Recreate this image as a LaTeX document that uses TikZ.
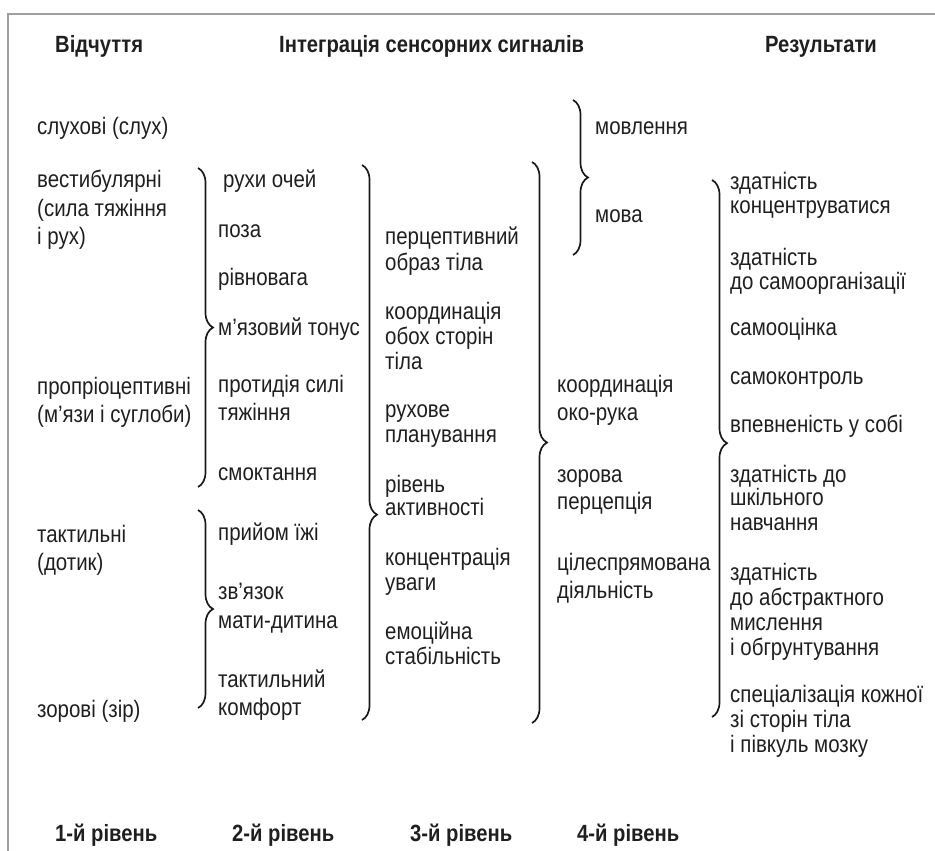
\documentclass[tikz,border=0pt]{standalone}
\usepackage{fontspec}
\setmainfont[FakeStretch=0.86]{Liberation Sans}
\usepackage{tikz}
\usetikzlibrary{
    decorations.pathreplacing,
}
\tikzset{
    % Text styles
    lbl/.style={anchor=base west, inner sep=0pt, text=black!88,
                font=\fontsize{23.8}{28}\selectfont},
    hdr/.style={lbl, font=\fontsize{23.5}{28}\selectfont\bfseries},
    % Brace styles
    brc/.style={decorate, decoration={brace, amplitude=15pt, aspect=#1},
                line width=1.7pt, draw=black!90},
    brc/.default=0.5,
    % Frame
    frame/.style={draw=gray!75, line width=1.5pt},
}

\begin{document}
\begin{tikzpicture}[x=1pt, y=-1pt]
    \useasboundingbox (0,0) rectangle (935,851);

    % Frame
    \draw[frame] (8,851) -- (8,14) -- (935,14);

    % Headings
    \foreach \x/\t [count=\i] in {55/Відчуття, 279/Інтеграція сенсорних сигналів, 765/Результати} {
        \node[hdr] (h\i) at (\x, 53) {\t};
    }

    % Senses
    \foreach \y/\t [count=\i] in {127/слухові (слух), 180/вестибулярні, 209/(сила тяжіння,
        237/і рух), 387/пропріоцептивні, 415/(м’язи і суглоби), 535/тактильні,
        563/(дотик), 710/зорові (зір)} {
        \node[lbl] (a\i) at (37, \y+7) {\t};
    }

    % 2nd level
    \node[lbl] (b0) at (223, 187) {рухи очей};
    \foreach \y/\t [count=\i] in {230/поза, 278/рівновага, 328/м’язовий тонус,
        385/протидія силі, 413/тяжіння, 473/смоктання, 533/прийом їжі,
        592/зв’язок, 621/мати-дитина, 680/тактильний, 708/комфорт} {
        \node[lbl] (b\i) at (218, \y+7) {\t};
    }

    % 3rd level
    \foreach \y/\t [count=\i] in {237/перцептивний, 263/образ тіла, 312/координація,
        337/обох сторін, 362/тіла, 410/рухове, 435/планування, 485/рівень,
        508/активності, 558/концентрація, 583/уваги, 632/емоційна, 657/стабільність} {
        \node[lbl] (c\i) at (385, \y+7) {\t};
    }

    % 4th level
    \node[lbl] (d0) at (595, 134) {мовлення};
    \node[lbl] (d00) at (595, 222) {мова};
    \foreach \y/\t [count=\i] in {385/координація, 413/око-рука, 475/зорова,
        502/перцепція, 563/цілеспрямована, 591/діяльність} {
        \node[lbl] (d\i) at (557, \y+7) {\t};
    }

    % Results
    \foreach \y/\t [count=\i] in {182/здатність, 206/концентруватися, 258/здатність,
        282/до самоорганізації, 328/самооцінка, 377/самоконтроль,
        425/впевненість у собі, 475/здатність до, 498/шкільного, 523/навчання,
        573/здатність, 598/до абстрактного, 623/мислення, 648/і обгрунтування,
        695/спеціалізація кожної, 720/зі сторін тіла, 745/і півкуль мозку} {
        \node[lbl] (e\i) at (730, \y+7) {\t};
    }

    % Levels
    \foreach \x/\n [count=\i] in {55/1, 232/2, 410/3, 577/4} {
        \node[hdr] (r\i) at (\x, 841) {\n-й рівень};
    }

    % Braces
    \coordinate (p1) at (198, 168);  \coordinate (q1) at (198, 487);
    \coordinate (p2) at (198, 510);  \coordinate (q2) at (198, 708);
    \coordinate (p3) at (362, 165);  \coordinate (q3) at (362, 720);
    \coordinate (p4) at (532, 162);  \coordinate (q4) at (532, 723);
    \coordinate (p5) at (573, 100);  \coordinate (q5) at (573, 255);
    \coordinate (p6) at (712, 180);  \coordinate (q6) at (712, 717);
    \draw[brc] (p1) -- (q1);
    \draw[brc] (p2) -- (q2);
    \draw[brc=0.63] (p3) -- (q3);
    \draw[brc] (p4) -- (q4);
    \draw[brc] (p5) -- (q5);
    \draw[brc=0.49] (p6) -- (q6);
\end{tikzpicture}
\end{document}
